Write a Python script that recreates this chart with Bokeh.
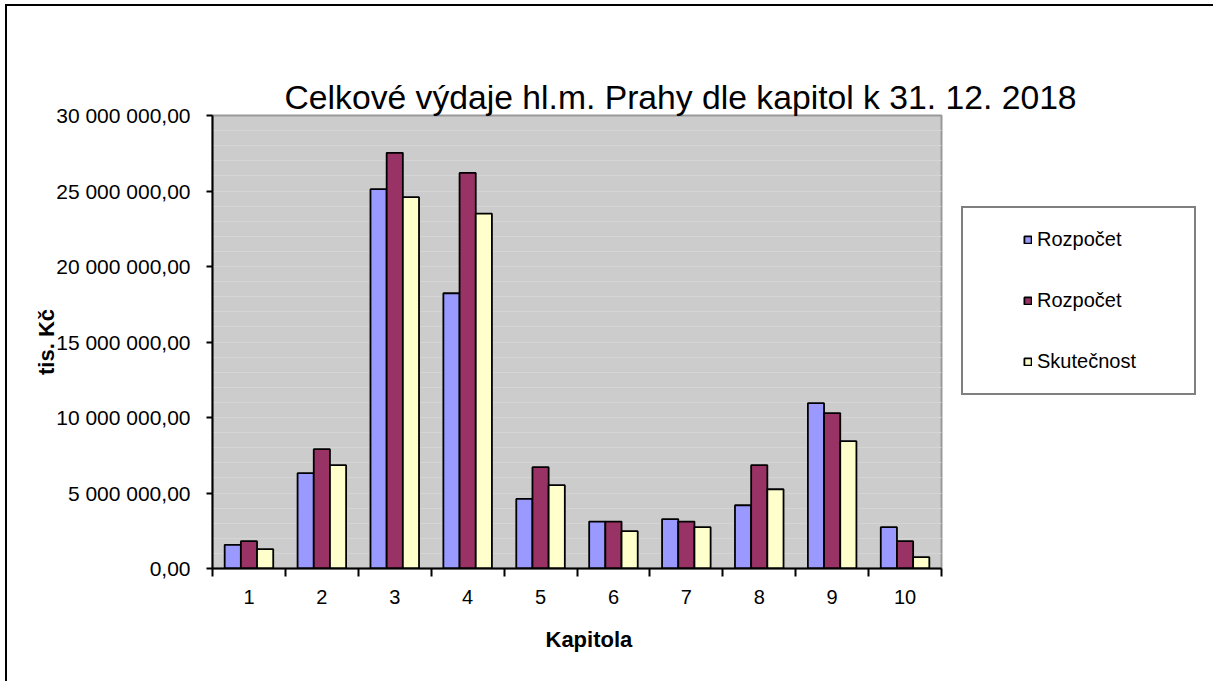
from bokeh.plotting import figure
from bokeh.models import (ColumnDataSource, Range1d, FixedTicker, Legend, LegendItem, Title)
from bokeh.transform import dodge
from bokeh.core.properties import value
from bokeh.embed import file_html
from bokeh.resources import INLINE

# ---------------- data ----------------
kapitoly = [1, 2, 3, 4, 5, 6, 7, 8, 9, 10]
kapitola_labels = ["1", "2", "3", "4", "5", "6", "7", "8", "9", "10"]
rozpocet_1 = [1570000, 6310000, 25120000, 18230000, 4610000, 3110000, 3270000, 4190000, 10950000, 2740000]
rozpocet_2 = [1810000, 7900000, 27530000, 26200000, 6710000, 3110000, 3110000, 6840000, 10290000, 1810000]
skutecnost = [1280000, 6840000, 24590000, 23500000, 5520000, 2470000, 2740000, 5250000, 8430000, 750000]
series_names = ["Rozpočet", "Rozpočet", "Skutečnost"]
series_colors = ["#9999FF", "#993366", "#FFFFCC"]
y_ticks = [0, 5000000, 10000000, 15000000, 20000000, 25000000, 30000000]
y_tick_labels = ["0,00", "5 000 000,00", "10 000 000,00", "15 000 000,00",
                 "20 000 000,00", "25 000 000,00", "30 000 000,00"]
title_text = "Celkové výdaje hl.m. Prahy dle kapitol k 31. 12. 2018"
x_title = "Kapitola"
y_title = "tis. Kč"

FONT = "Liberation Sans"

source = ColumnDataSource(dict(kapitola=kapitoly, r1=rozpocet_1, r2=rozpocet_2, s=skutecnost))

p = figure(frame_width=729, frame_height=453,
           x_range=Range1d(0.5, 10.5), y_range=Range1d(0, 30000000),
           output_backend="svg", toolbar_location=None,
           min_border_left=205, min_border_right=271,
           min_border_top=109, min_border_bottom=113)
p.styles = {"border-left": "2px solid black", "border-top": "2px solid black",
            "margin-left": "5px", "margin-top": "4px"}

p.background_fill_color = "#CCCCCC"
p.border_fill_color = "white"
p.outline_line_color = "#999999"
p.outline_line_width = 2

# ---- titles: real title, then an invisible spacer between it and the frame ----
p.title.text = ""
p.add_layout(Title(text=title_text, align="left", offset=72, standoff=0,
                   text_font=FONT, text_font_size="33.7px", text_font_style="normal",
                   text_color="black"), "above")
p.add_layout(Title(text=".", text_font_size="14px", standoff=26, text_alpha=0), "above")

bar_w = 0.222
cols = ["r1", "r2", "s"]
bars = []
for i, (col, color) in enumerate(zip(cols, series_colors)):
    bars.append(p.vbar(x=dodge("kapitola", (i - 1) * bar_w), top=col, width=bar_w,
                       source=source, fill_color=color, line_color="black",
                       line_width=1.8))

# ---- axes ----
xt = FixedTicker(ticks=kapitoly, minor_ticks=[k - 0.5 for k in kapitoly] + [10.5])
p.xaxis.ticker = xt
p.xaxis.major_label_overrides = dict(zip(kapitoly, kapitola_labels))
p.xaxis.major_tick_out = 0
p.xaxis.major_tick_in = 0
p.xaxis.minor_tick_out = 8
p.xaxis.minor_tick_in = 0
p.xaxis.minor_tick_line_color = "black"
p.xaxis.minor_tick_line_width = 2
p.xaxis.axis_line_color = "black"
p.xaxis.axis_line_width = 2
p.xaxis.major_label_standoff = 13
p.xaxis.major_label_text_font = FONT
p.xaxis.major_label_text_font_size = "20px"
p.xaxis.major_label_text_color = "black"

yt = FixedTicker(ticks=y_ticks, minor_ticks=[i * 1000000 for i in range(31)])
p.yaxis.ticker = yt
p.yaxis.major_label_overrides = dict(zip(y_ticks, y_tick_labels))
p.yaxis.major_tick_out = 6
p.yaxis.major_tick_in = 0
p.yaxis.minor_tick_out = 0
p.yaxis.minor_tick_in = 0
p.yaxis.major_tick_line_width = 2
p.yaxis.major_tick_line_color = "black"
p.yaxis.axis_line_color = "black"
p.yaxis.axis_line_width = 2
p.yaxis.major_label_standoff = 16
p.yaxis.major_label_text_font = FONT
p.yaxis.major_label_text_font_size = "21px"
p.yaxis.major_label_text_color = "black"
p.yaxis.axis_label = y_title
p.yaxis.axis_label_standoff = -6
p.yaxis.axis_label_text_font = FONT
p.yaxis.axis_label_text_font_size = "22px"
p.yaxis.axis_label_text_font_style = "bold"
p.yaxis.axis_label_text_color = "black"

p.add_layout(Title(text=x_title, align="left", offset=333, standoff=37,
                   text_font=FONT, text_font_size="22px", text_font_style="bold",
                   text_color="black"), "below")

p.xgrid.visible = False
p.ygrid.ticker = yt
p.ygrid.grid_line_color = "#D5D5D5"
p.ygrid.grid_line_width = 1
p.ygrid.minor_grid_line_color = "#D5D5D5"
p.ygrid.minor_grid_line_width = 1
p.ygrid.level = "underlay"

# ---- legend (invisible left title makes the wide left gap) ----
legend = Legend(items=[LegendItem(label=value(n), renderers=[r])
                       for n, r in zip(series_names, bars)],
                location=(20, 173), padding=20, margin=0, spacing=38,
                glyph_width=9, glyph_height=9, label_standoff=5,
                label_width=137, label_height=23,
                label_text_font=FONT, label_text_font_size="20px",
                label_text_color="black",
                title=" ", title_location="left", title_standoff=17,
                title_text_font=FONT, title_text_font_size="20px", title_text_alpha=0,
                border_line_color="black", border_line_width=2,
                background_fill_color="white", background_fill_alpha=1)
p.add_layout(legend, "right")

open("out.html", "w").write(file_html(p, INLINE))
